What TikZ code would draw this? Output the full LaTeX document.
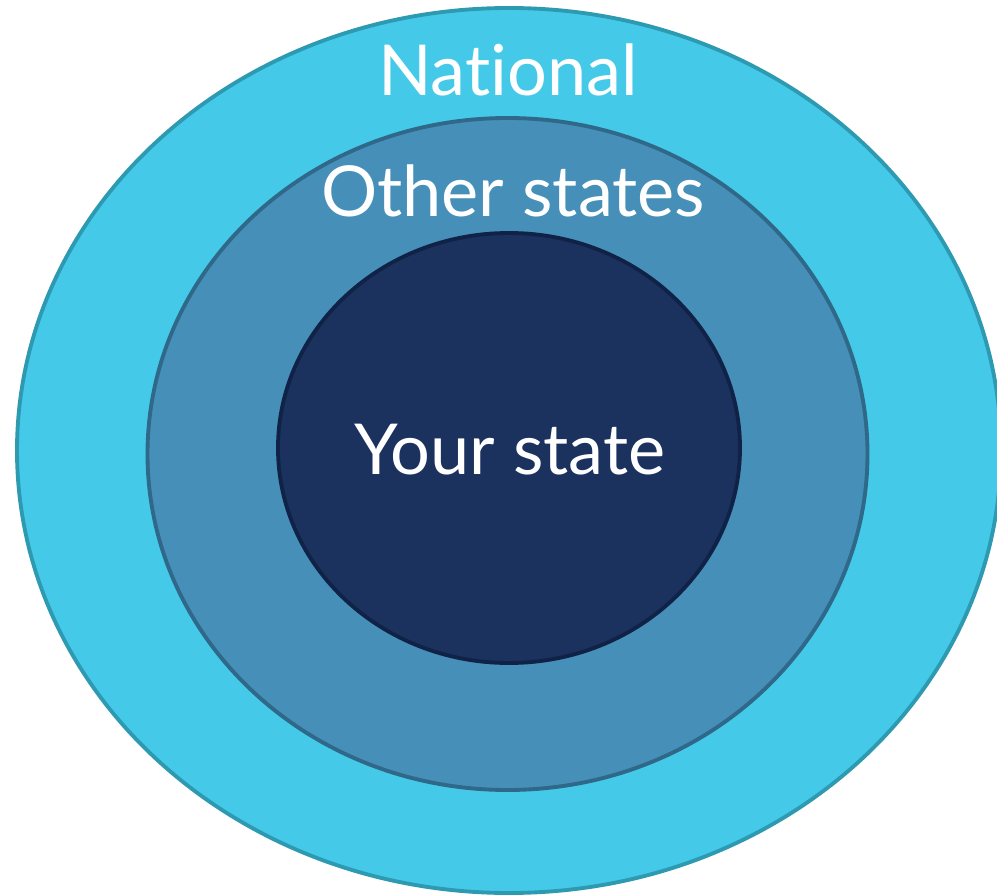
\documentclass[tikz,border=0pt]{standalone}
\usepackage{fontspec}
\setmainfont[Ligatures=NoCommon]{Lato}
\usepackage{xcolor}

\definecolor{natfill}{HTML}{44CAE8}
\definecolor{natline}{HTML}{2E9AB2}
\definecolor{othfill}{HTML}{458FB9}
\definecolor{othline}{HTML}{2F6888}
\definecolor{yourfill}{HTML}{1B325F}
\definecolor{yourline}{HTML}{112247}

\tikzset{
  ring/.style={line width=2.2pt},
  lbl/.style={text=white, font=\fontsize{40}{48}\selectfont, inner sep=0pt}
}

\begin{document}
\begin{tikzpicture}[x=0.02cm, y=-0.02cm]
                \useasboundingbox (0,0) rectangle (997,895);

                %% National
                \draw[ring, natline, fill=natfill] (509,450.5) ellipse (492 and 442.5);
                \node[lbl] (national) at (508,70) {National};

                %% Other states
                \draw[ring, othline, fill=othfill] (507.5,454) ellipse (360 and 336);
                \node[lbl] (other) at (513,191) {Other states};

                %% Your state
                \draw[ring, yourline, fill=yourfill] (509,448) ellipse (231 and 215);
                \node[lbl] (your) at (510,450) {Your state};

\end{tikzpicture}
\end{document}
